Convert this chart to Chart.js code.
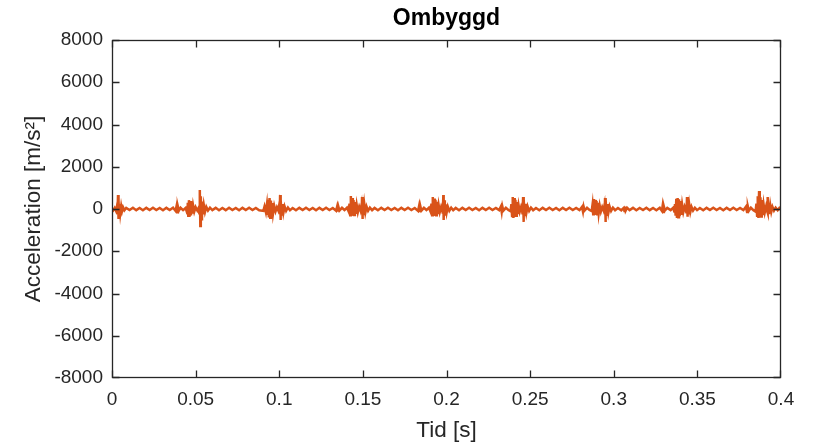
<!DOCTYPE html>
<html>
<head>
<meta charset="utf-8">
<script src="https://cdn.jsdelivr.net/npm/chart.js@4"></script>
<style>
  html, body { margin: 0; padding: 0; background: #fff; }
  #wrap { width: 818px; height: 445px; }
</style>
</head>
<body>
<div id="wrap"><canvas id="chart" width="818" height="445"></canvas></div>
<script>
const tid = [
  0, 0.0008, 0.0016, 0.0024, 0.003, 0.0033, 0.0036, 0.0038, 0.004, 0.0043, 0.0046, 0.005, 0.0055, 0.006, 0.0066, 0.0074,
  0.0085, 0.0105, 0.0125, 0.0145, 0.0165, 0.0185, 0.0205, 0.0225, 0.0245, 0.0265, 0.0285, 0.0305, 0.0325, 0.0345, 0.0365,
  0.038, 0.0386, 0.039, 0.0394, 0.04, 0.041, 0.0425, 0.044,
  0.045, 0.0453, 0.0456, 0.046, 0.0464, 0.0468, 0.0472, 0.0476, 0.048, 0.0485, 0.0492, 0.05, 0.051, 0.0518,
  0.0522, 0.0524, 0.0526, 0.0528, 0.0531, 0.0534, 0.0538, 0.0543, 0.0549, 0.0556, 0.0564, 0.0574, 0.0586,
  0.06, 0.062, 0.064, 0.066, 0.068, 0.07, 0.072, 0.074, 0.076, 0.078, 0.08, 0.082, 0.084, 0.086, 0.088,
  0.0905, 0.0912, 0.092, 0.0926, 0.093, 0.0934, 0.0938, 0.0942, 0.0946, 0.095, 0.0954, 0.0958, 0.0963, 0.097, 0.0978, 0.0986, 0.0994,
  0.1, 0.1003, 0.1005, 0.1007, 0.101, 0.1014, 0.1019, 0.1025, 0.1032, 0.1041, 0.1052, 0.1064,
  0.108, 0.11, 0.112, 0.114, 0.116, 0.118, 0.12, 0.122, 0.124, 0.126, 0.128, 0.13, 0.132,
  0.134, 0.1346, 0.135, 0.1354, 0.136, 0.1375, 0.139, 0.1405,
  0.1415, 0.142, 0.1424, 0.1428, 0.1432, 0.1436, 0.144, 0.1444, 0.1448, 0.1452, 0.1457, 0.1463, 0.147, 0.1478, 0.1486,
  0.1491, 0.1493, 0.1495, 0.1497, 0.15, 0.1504, 0.1509, 0.1515, 0.1522, 0.1531, 0.1542, 0.1555,
  0.157, 0.159, 0.161, 0.163, 0.165, 0.167, 0.169, 0.171, 0.173, 0.175, 0.177, 0.179, 0.181,
  0.183, 0.1836, 0.184, 0.1844, 0.185, 0.1865, 0.188, 0.1895,
  0.1905, 0.191, 0.1914, 0.1918, 0.1922, 0.1926, 0.193, 0.1934, 0.1938, 0.1942, 0.1947, 0.1953, 0.196, 0.1968, 0.1975,
  0.1977, 0.1979, 0.1981, 0.1983, 0.1986, 0.199, 0.1995, 0.2001, 0.2008, 0.2017, 0.2028, 0.204,
  0.2055, 0.2075, 0.2095, 0.2115, 0.2135, 0.2155, 0.2175, 0.2195, 0.2215, 0.2235, 0.2255, 0.2275, 0.2295, 0.2315,
  0.2325, 0.233, 0.2334, 0.234, 0.2355, 0.237,
  0.2383, 0.2388, 0.2392, 0.2396, 0.24, 0.2404, 0.2408, 0.2412, 0.2416, 0.242, 0.2425, 0.2431, 0.2438, 0.2446, 0.2452,
  0.2454, 0.2456, 0.2458, 0.246, 0.2463, 0.2467, 0.2472, 0.2478, 0.2485, 0.2494, 0.2505, 0.2518,
  0.2535, 0.2555, 0.2575, 0.2595, 0.2615, 0.2635, 0.2655, 0.2675, 0.2695, 0.2715, 0.2735, 0.2755, 0.2775, 0.2795,
  0.281, 0.2816, 0.282, 0.2826, 0.284, 0.2855,
  0.2868, 0.2873, 0.2877, 0.2881, 0.2885, 0.2889, 0.2893, 0.2897, 0.2901, 0.2905, 0.291, 0.2916, 0.2923, 0.2931, 0.2939,
  0.2944, 0.2946, 0.2948, 0.295, 0.2953, 0.2957, 0.2962, 0.2968, 0.2975, 0.2984, 0.2995, 0.3008,
  0.3025, 0.3045, 0.306, 0.3064, 0.3067, 0.3071, 0.308, 0.3095, 0.3115, 0.3135, 0.3155, 0.3175, 0.3195, 0.3215, 0.3235, 0.3255, 0.3275,
  0.3288, 0.3292, 0.3296, 0.33, 0.3306, 0.332, 0.334, 0.3355,
  0.3362, 0.3366, 0.337, 0.3374, 0.3378, 0.3382, 0.3386, 0.339, 0.3394, 0.3398, 0.3403, 0.3409, 0.3416, 0.3424, 0.3432,
  0.3434, 0.3436, 0.3438, 0.344, 0.3443, 0.3447, 0.3452, 0.3458, 0.3465, 0.3474, 0.3485, 0.3498,
  0.3515, 0.3535, 0.3555, 0.3575, 0.3595, 0.3615, 0.3635, 0.3655, 0.3675, 0.3695, 0.3715, 0.3735, 0.3755, 0.3775,
  0.379, 0.3797, 0.3802, 0.3808, 0.382, 0.3835,
  0.3848, 0.3853, 0.3857, 0.3861, 0.3865, 0.3869, 0.3873, 0.3877, 0.3881, 0.3885, 0.389, 0.3896, 0.3903, 0.3911, 0.3917,
  0.3919, 0.392, 0.3922, 0.3924, 0.3927, 0.3931, 0.3936, 0.3942, 0.3949, 0.3958, 0.3968, 0.398, 0.399, 0.4
];
const acc = [
  30, -60, 50, -90, 150, -250, 660, -470, 380, -320, 240, -180, 130, -100, 80, -60,
  50, -45, 60, -55, 45, -60, 55, -50, 60, -45, 50, -60, 55, -50, 60,
  -90, 140, -150, 120, -80, 60, -55, 50,
  -200, 300, -320, 420, -370, 380, -300, 280, -220, 170, -120, 90, -70, 60,
  -200, 400, 900, -800, 600, -480, 350, -260, 190, -140, 100, -75, 60,
  -50, 55, -60, 45, -55, 60, -45, 50, -60, 55, -50, 60, -45, 50, -60,
  -90, 120, -150, 200, -280, 430, -400, 520, -420, 400, -330, 280, -210, 150, -110, 80, -70,
  200, -250, 660, -520, 420, -320, 230, -170, 120, -90, 70, -55,
  50, -60, 55, -50, 60, -45, 50, -60, 55, -50, 60, -45, 50,
  -80, 110, -120, 100, -70, 55, -50, 60,
  -120, 250, -300, 610, -330, 520, -310, 420, -280, 330, -230, 200, -150, 110, -80,
  150, -200, 570, -470, 380, -290, 210, -160, 110, -85, 65, -55,
  50, -60, 55, -50, 60, -45, 50, -60, 55, -50, 60, -45, 50,
  -90, 140, -150, 120, -80, 55, -50, 60,
  -130, 260, -300, 570, -330, 500, -320, 430, -290, 340, -240, 190, -140, 100, -80,
  180, -220, 660, -520, 410, -310, 220, -160, 115, -85, 65, -55,
  50, -60, 55, -50, 60, -45, 50, -60, 55, -50, 60, -45, 50, -55,
  110, -130, 120, -80, 55, -50,
  -110, 230, -330, 570, -420, 520, -380, 430, -320, 330, -240, 180, -130, 95, -75,
  160, -250, 570, -610, 450, -340, 240, -170, 120, -90, 65, -55,
  50, -60, 55, -50, 60, -45, 50, -60, 55, -50, 60, -45, 50, -55,
  100, -120, 110, -70, 55, -50,
  -100, 200, -250, 470, -280, 430, -270, 380, -250, 300, -200, 160, -120, 90, -70,
  150, -230, 520, -610, 440, -330, 230, -170, 120, -90, 65, -55,
  50, -60, 55, -90, 110, -80, 60, -50, 55, -60, 50, -45, 60, -55, 50, -60, 55,
  -90, 130, -140, 110, -70, 55, -50, 60,
  -120, 240, -320, 480, -420, 520, -390, 460, -340, 380, -280, 210, -150, 110, -80,
  160, -200, 570, -370, 330, -260, 190, -140, 100, -75, 60, -55,
  50, -60, 55, -50, 60, -45, 50, -60, 55, -50, 60, -45, 50, -55,
  110, -140, 120, -80, 60, -55,
  -120, 250, -320, 600, -420, 850, -400, 560, -360, 430, -290, 220, -160, 120, -90,
  150, -180, 570, -190, 300, -220, 170, -130, 100, -80, 60, -55, 50, -40
];

const xTicks = [0, 0.05, 0.1, 0.15, 0.2, 0.25, 0.3, 0.35, 0.4];
const xTickLabels = ["0", "0.05", "0.1", "0.15", "0.2", "0.25", "0.3", "0.35", "0.4"];
const yTicks = [-8000, -6000, -4000, -2000, 0, 2000, 4000, 6000, 8000];
const yTickLabels = ["-8000", "-6000", "-4000", "-2000", "0", "2000", "4000", "6000", "8000"];

if (tid.length !== acc.length) console.error("tid/acc length mismatch", tid.length, acc.length);

const axisColor = "#262626";
const fontFamily = "'Liberation Sans', Arial, Helvetica, sans-serif";

// matlab style box with inward ticks on all four sides
const boxPlugin = {
  id: "box",
  afterDraw(chart) {
    const { ctx, chartArea: a, scales } = chart;
    const len = 7;
    ctx.save();
    ctx.strokeStyle = axisColor;
    ctx.lineWidth = 1.3;
    const l = Math.round(a.left) + 0.5, r = Math.round(a.right) - 0.5;
    const t = Math.round(a.top) + 0.5, b = Math.round(a.bottom) - 0.5;
    ctx.strokeRect(l, t, r - l, b - t);
    ctx.beginPath();
    xTicks.forEach((v) => {
      const px = Math.min(r, Math.max(l, Math.round(scales.x.getPixelForValue(v)) + 0.5));
      ctx.moveTo(px, b); ctx.lineTo(px, b - len);
      ctx.moveTo(px, t); ctx.lineTo(px, t + len);
    });
    yTicks.forEach((v) => {
      const py = Math.min(b, Math.max(t, Math.round(scales.y.getPixelForValue(v)) + 0.5));
      ctx.moveTo(l, py); ctx.lineTo(l + len, py);
      ctx.moveTo(r, py); ctx.lineTo(r - len, py);
    });
    ctx.stroke();
    ctx.restore();
  }
};

new Chart(document.getElementById("chart"), {
  type: "line",
  data: {
    datasets: [{
      data: tid.map((t, i) => ({ x: t, y: acc[i] })),
      borderColor: "#D95319",
      borderWidth: 2.5,
      pointRadius: 0,
      tension: 0,
      fill: false
    }]
  },
  options: {
    responsive: false,
    animation: false,
    devicePixelRatio: 1,
    layout: { padding: { left: 0, right: 37, top: 0, bottom: 0 } },
    plugins: {
      legend: { display: false },
      tooltip: { enabled: false },
      title: {
        display: true,
        text: "Ombyggd",
        fullSize: false,
        color: "#000",
        font: { family: fontFamily, size: 23, weight: "bold" },
        padding: { top: 5, bottom: 7.4 }
      }
    },
    scales: {
      x: {
        type: "linear",
        min: 0,
        max: 0.4,
        grid: { display: false, drawTicks: false },
        border: { display: false },
        afterBuildTicks: (s) => { s.ticks = xTicks.map((v) => ({ value: v })); },
        afterFit: (s) => { s.height = 67; },
        ticks: {
          color: axisColor,
          padding: 10,
          maxRotation: 0,
          autoSkip: false,
          font: { family: fontFamily, size: 19 },
          callback: (v, i) => xTickLabels[i]
        },
        title: {
          display: true,
          text: "Tid [s]",
          color: axisColor,
          font: { family: fontFamily, size: 22.5 },
          padding: { top: 0, bottom: 0.5 }
        }
      },
      y: {
        min: -8000,
        max: 8000,
        grid: { display: false, drawTicks: false },
        border: { display: false },
        afterBuildTicks: (s) => { s.ticks = yTicks.map((v) => ({ value: v })); },
        afterFit: (s) => { s.width = 112; },
        ticks: {
          color: axisColor,
          padding: 9,
          autoSkip: false,
          font: { family: fontFamily, size: 19 },
          callback: (v, i) => yTickLabels[i]
        },
        title: {
          display: true,
          text: "Acceleration [m/s²]",
          color: axisColor,
          font: { family: fontFamily, size: 22.5 },
          padding: { top: 20.5, bottom: 0 }
        }
      }
    }
  },
  plugins: [boxPlugin]
});
</script>
</body>
</html>
